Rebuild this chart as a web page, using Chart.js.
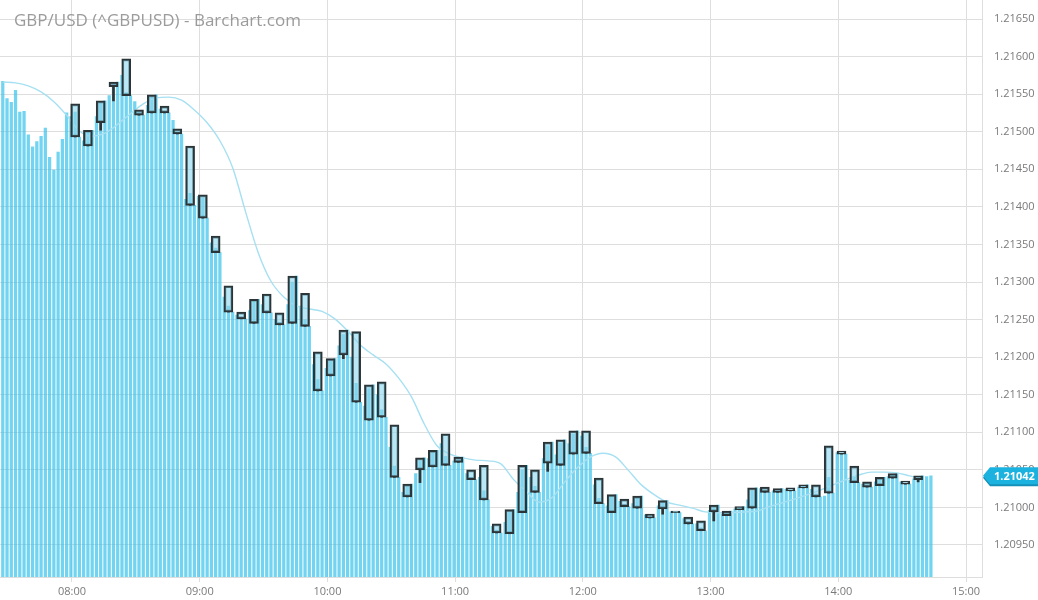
<!DOCTYPE html>
<html>
<head>
<meta charset="utf-8">
<title>GBP/USD (^GBPUSD) - Barchart.com</title>
<script src="https://cdn.jsdelivr.net/npm/chart.js@4.4.0/dist/chart.umd.min.js"></script>
<style>
  html, body { margin: 0; padding: 0; background: #fff; }
  #wrap { position: relative; width: 1038px; height: 600px; }
  #title {
    position: absolute; left: 14px; top: 11px;
    font: 17px "Open Sans", sans-serif; line-height: 1;
    color: #9b9b9b; pointer-events: none; white-space: nowrap;
  }
</style>
</head>
<body>
<div id="wrap">
  <canvas id="price-chart"></canvas>
  <div id="title">GBP/USD (^GBPUSD) - Barchart.com</div>
</div>
<script>
// times are minutes after midnight
var firstBarMin = 447.5;     // 2-minute close bars
var firstCandleMin = 481.5;  // 6-minute candles
var firstMaMin = 447.5;      // moving average sampled every 6 minutes
var xMin = 446.2, xMax = 907.5;
var yMin = 1.209074, yMax = 1.216753;

var hourTicks = [480, 540, 600, 660, 720, 780, 840, 900];
var hourLabels = ["08:00", "09:00", "10:00", "11:00", "12:00", "13:00", "14:00", "15:00"];
var priceTicks = [1.2095, 1.2100, 1.2105, 1.2110, 1.2115, 1.2120, 1.2125, 1.2130,
                  1.2135, 1.2140, 1.2145, 1.2150, 1.2155, 1.2160, 1.2165];
var lastPrice = 1.21042;

//2 minute closes (background bars)
var barClose = [
  1.21567, 1.21544, 1.21539, 1.21555, 1.21526, 1.21527, 1.21496, 1.21480,
  1.21487, 1.21494, 1.21505, 1.21466, 1.21449, 1.21473, 1.21490, 1.21525,
  1.21520, 1.21526, 1.21493,  1.21488, 1.21500, 1.21502,  1.21520, 1.21538, 1.21541,
  1.21548, 1.21563, 1.21566,  1.21575, 1.21552, 1.21548,  1.21540, 1.21526, 1.21522,
  1.21535, 1.21547, 1.21549,  1.21530, 1.21527, 1.21525,  1.21515, 1.21500, 1.21497,
  1.21410, 1.21418, 1.21402,  1.21414, 1.21412, 1.21385,  1.21352, 1.21345, 1.21339,
  1.21280, 1.21268, 1.21260,  1.21256, 1.21253, 1.21251,  1.21262, 1.21275, 1.21277,
  1.21270, 1.21262, 1.21259,  1.21250, 1.21246, 1.21243,  1.21270, 1.21300, 1.21308,
  1.21268, 1.21250, 1.21241,  1.21190, 1.21170, 1.21155,  1.21185, 1.21195, 1.21198,
  1.21215, 1.21230, 1.21236,  1.21200, 1.21165, 1.21140,  1.21135, 1.21158, 1.21163,
  1.21150, 1.21130, 1.21120,  1.21080, 1.21055, 1.21040,  1.21020, 1.21028, 1.21031,
  1.21045, 1.21062, 1.21066,  1.21065, 1.21073, 1.21076,  1.21085, 1.21068, 1.21056,
  1.21062, 1.21065, 1.21067,  1.21045, 1.21040, 1.21037,  1.21040, 1.21022, 1.21010,
  1.20975, 1.20970, 1.20966,  1.20980, 1.20994, 1.20997,  1.21020, 1.21050, 1.21056,
  1.21040, 1.21028, 1.21020,  1.21065, 1.21082, 1.21087,  1.21070, 1.21086, 1.21090,
  1.21085, 1.21098, 1.21102,  1.21095, 1.21080, 1.21072,  1.21030, 1.21012, 1.21005,
  1.21002, 1.21014, 1.21017,  1.21008, 1.21004, 1.21001,  1.21005, 1.21012, 1.21015,
  1.20990, 1.20988, 1.20986,  1.21002, 1.21007, 1.21009,  1.20994, 1.20994, 1.20993,
  1.20985, 1.20981, 1.20978,  1.20978, 1.20973, 1.20969,  1.20996, 1.21001, 1.21003,
  1.20991, 1.20993, 1.20995,  1.20998, 1.21000, 1.21001,  1.21010, 1.21022, 1.21026,
  1.21025, 1.21022, 1.21020,  1.21022, 1.21024, 1.21025,  1.21024, 1.21023, 1.21022,
  1.21027, 1.21029, 1.21030,  1.21024, 1.21018, 1.21014,  1.21015, 1.21040, 1.21019,
  1.21073, 1.21072, 1.21071,  1.21036, 1.21040, 1.21033,  1.21031, 1.21029, 1.21027,
  1.21034, 1.21038, 1.21040,  1.21041, 1.21044, 1.21045,  1.21034, 1.21032, 1.21031,
  1.21038, 1.21041, 1.21042,  1.21041, 1.21042
];

//6 minute candles
var candleOpen = [
  1.21537, 1.21481, 1.21512, 1.21560, 1.21597, 1.21529, 1.21525, 1.21534, 1.21504, 1.21481,
  1.21416, 1.21361, 1.21295, 1.21260, 1.21245, 1.21284, 1.21259, 1.21245, 1.21285, 1.21207,
  1.21175, 1.21203, 1.21234, 1.21116, 1.21167, 1.21110, 1.21014, 1.21050, 1.21054, 1.21098,
  1.21060, 1.21050, 1.21056, 1.20978, 1.20965, 1.20993, 1.21050, 1.21059, 1.21056, 1.21071,
  1.21102, 1.21039, 1.20993, 1.21011, 1.20999, 1.20991, 1.20998, 1.20995, 1.20987, 1.20982,
  1.20994, 1.20989, 1.20997, 1.20999, 1.21027, 1.21020, 1.21026, 1.21026, 1.21030, 1.21082,
  1.21075, 1.21055, 1.21034, 1.21029, 1.21039, 1.21035, 1.21037
];
var candleHigh = [
  1.21537, 1.21502, 1.21541, 1.21566, 1.21597, 1.21548, 1.21549, 1.21534, 1.21526, 1.21497,
  1.21416, 1.21381, 1.21339, 1.21260, 1.21277, 1.21284, 1.21259, 1.21308, 1.21285, 1.21241,
  1.21198, 1.21236, 1.21234, 1.21163, 1.21167, 1.21120, 1.21040, 1.21066, 1.21076, 1.21098,
  1.21067, 1.21050, 1.21056, 1.21010, 1.20997, 1.21056, 1.21050, 1.21087, 1.21090, 1.21102,
  1.21102, 1.21074, 1.21017, 1.21011, 1.21015, 1.20999, 1.21009, 1.20998, 1.20993, 1.20982,
  1.21003, 1.20995, 1.21001, 1.21026, 1.21027, 1.21025, 1.21026, 1.21030, 1.21030, 1.21082,
  1.21075, 1.21071, 1.21034, 1.21040, 1.21045, 1.21040, 1.21042
];
var candleLow = [
  1.21493, 1.21481, 1.21502, 1.21541, 1.21548, 1.21522, 1.21525, 1.21525, 1.21497, 1.21402,
  1.21385, 1.21339, 1.21260, 1.21251, 1.21245, 1.21259, 1.21243, 1.21245, 1.21241, 1.21155,
  1.21175, 1.21198, 1.21140, 1.21116, 1.21120, 1.21040, 1.21014, 1.21033, 1.21054, 1.21056,
  1.21060, 1.21037, 1.21010, 1.20966, 1.20965, 1.20993, 1.21020, 1.21048, 1.21056, 1.21071,
  1.21072, 1.21005, 1.20993, 1.21001, 1.20999, 1.20986, 1.20991, 1.20993, 1.20978, 1.20969,
  1.20982, 1.20989, 1.20997, 1.20999, 1.21020, 1.21020, 1.21022, 1.21026, 1.21014, 1.21019,
  1.21071, 1.21033, 1.21027, 1.21029, 1.21039, 1.21031, 1.21034
];
var candleClose = [
  1.21493, 1.21502, 1.21541, 1.21566, 1.21548, 1.21522, 1.21549, 1.21525, 1.21497, 1.21402,
  1.21385, 1.21339, 1.21260, 1.21251, 1.21277, 1.21259, 1.21243, 1.21308, 1.21241, 1.21155,
  1.21198, 1.21236, 1.21140, 1.21163, 1.21120, 1.21040, 1.21031, 1.21066, 1.21076, 1.21056,
  1.21067, 1.21037, 1.21010, 1.20966, 1.20997, 1.21056, 1.21020, 1.21087, 1.21090, 1.21102,
  1.21072, 1.21005, 1.21017, 1.21001, 1.21015, 1.20986, 1.21009, 1.20993, 1.20978, 1.20969,
  1.21003, 1.20995, 1.21001, 1.21026, 1.21020, 1.21025, 1.21022, 1.21030, 1.21014, 1.21019,
  1.21071, 1.21033, 1.21027, 1.21040, 1.21045, 1.21031, 1.21042
];

//moving average
var maValues = [
  1.21566, 1.21565, 1.21561, 1.21553, 1.21540, 1.21522, 1.21501, 1.21494, 1.21498, 1.21510,
  1.21524, 1.21537, 1.21545, 1.21546, 1.21542, 1.21529, 1.21512, 1.21488, 1.21452, 1.21394,
  1.21339, 1.21301, 1.21280, 1.21268, 1.21264, 1.21261, 1.21251, 1.21235, 1.21216, 1.21203,
  1.21191, 1.21172, 1.21147, 1.21111, 1.21082, 1.21071, 1.21066, 1.21063, 1.21062, 1.21058,
  1.21037, 1.21021, 1.21007, 1.21013, 1.21034, 1.21053, 1.21067, 1.21072, 1.21067, 1.21049,
  1.21030, 1.21017, 1.21007, 1.21003, 1.20999, 1.20994, 1.20993, 1.20993, 1.20994, 1.20995,
  1.21001, 1.21006, 1.21011, 1.21017, 1.21023, 1.21030, 1.21037, 1.21043, 1.21047, 1.21047,
  1.21046, 1.21042, 1.21038
];

//build points for the library
var barPoints = barClose.map(function(v, i) { return {x: firstBarMin + 2 * i, y: v}; });
var maPoints = maValues.map(function(v, i) { return {x: firstMaMin + 6 * i, y: v}; });
var bodyPoints = [], upperWick = [], lowerWick = [];
for (var i = 0; i < candleOpen.length; i++) {
  var t = firstCandleMin + 6 * i;
  var top = Math.max(candleOpen[i], candleClose[i]);
  var bottom = Math.min(candleOpen[i], candleClose[i]);
  bodyPoints.push({x: t, y: [candleOpen[i], candleClose[i]]});
  upperWick.push({x: t, y: [top, candleHigh[i]]});
  lowerWick.push({x: t, y: [candleLow[i], bottom]});
}

//last price tag on the right axis
var priceTag = {
  id: "priceTag",
  afterDraw: function(chart) {
    var ctx = chart.ctx;
    var y = chart.scales.y.getPixelForValue(lastPrice);
    var x0 = chart.chartArea.right + 1;
    var x1 = chart.width;
    var h = 8.5;
    ctx.save();
    var shape = function(dy) {
      ctx.beginPath();
      ctx.moveTo(x0, y + dy);
      ctx.lineTo(x0 + 7, y - h + dy);
      ctx.lineTo(x1, y - h + dy);
      ctx.lineTo(x1, y + h + dy);
      ctx.lineTo(x0 + 7, y + h + dy);
      ctx.closePath();
    };
    shape(2);
    ctx.fillStyle = "#1590b8";
    ctx.fill();
    shape(0);
    ctx.fillStyle = "#1cb2df";
    ctx.fill();
    ctx.fillStyle = "#ffffff";
    ctx.font = "bold 11px 'Open Sans'";
    ctx.textBaseline = "middle";
    ctx.fillText(lastPrice.toFixed(5), x0 + 11, y + 0.5);
    ctx.restore();
  }
};

var gridColor = "#dedede";
var labelFont = {family: "Open Sans", size: 11};

new Chart("price-chart", {
  type: "bar",
  data: {
    datasets: [{
      label: "Body",
      data: bodyPoints,
      backgroundColor: "rgba(140,215,238,0.6)",
      borderColor: "#2b3437",
      borderWidth: 2,
      borderSkipped: false,
      barThickness: 9,
      grouped: false,
      order: 1
    }, {
      label: "Upper wick",
      data: upperWick,
      backgroundColor: "#2b3437",
      barThickness: 2,
      grouped: false,
      order: 2
    }, {
      label: "Lower wick",
      data: lowerWick,
      backgroundColor: "#2b3437",
      barThickness: 2,
      grouped: false,
      order: 2
    }, {
      type: "line",
      label: "MA",
      data: maPoints,
      borderColor: "#a6e0f2",
      borderWidth: 1.4,
      pointRadius: 0,
      fill: false,
      cubicInterpolationMode: "monotone",
      order: 3
    }, {
      label: "Close",
      data: barPoints,
      backgroundColor: "rgba(60,196,234,0.72)",
      borderWidth: 0,
      barThickness: 2.6,
      grouped: false,
      order: 4
    }]
  },
  options: {
    responsive: true,
    maintainAspectRatio: false,
    animation: false,
    layout: { padding: 0 },
    plugins: {
      legend: { display: false },
      tooltip: { enabled: false },
      title: { display: false }
    },
    scales: {
      x: {
        type: "linear",
        min: xMin,
        max: xMax,
        offset: false,
        afterBuildTicks: function(scale) {
          scale.ticks = hourTicks.map(function(v) { return {value: v}; });
        },
        afterFit: function(scale) {
          scale.height = 23;
          scale.paddingLeft = 0;
          scale.paddingRight = 0;
        },
        ticks: {
          autoSkip: false,
          maxRotation: 0,
          padding: 3,
          color: "#7a7a7a",
          font: labelFont,
          callback: function(value, index) { return hourLabels[index]; }
        },
        grid: { color: gridColor, tickLength: 5, offset: false },
        border: { color: gridColor }
      },
      y: {
        position: "right",
        min: yMin,
        max: yMax,
        afterBuildTicks: function(scale) {
          scale.ticks = priceTicks.map(function(v) { return {value: v}; });
        },
        afterFit: function(scale) {
          scale.width = 56;
          scale.paddingTop = 0;
          scale.paddingBottom = 0;
        },
        ticks: {
          padding: 12,
          color: "#7a7a7a",
          font: labelFont,
          callback: function(value) { return value.toFixed(5); }
        },
        grid: { color: gridColor, drawTicks: false },
        border: { color: gridColor }
      }
    }
  },
  plugins: [priceTag]
});
</script>
</body>
</html>
